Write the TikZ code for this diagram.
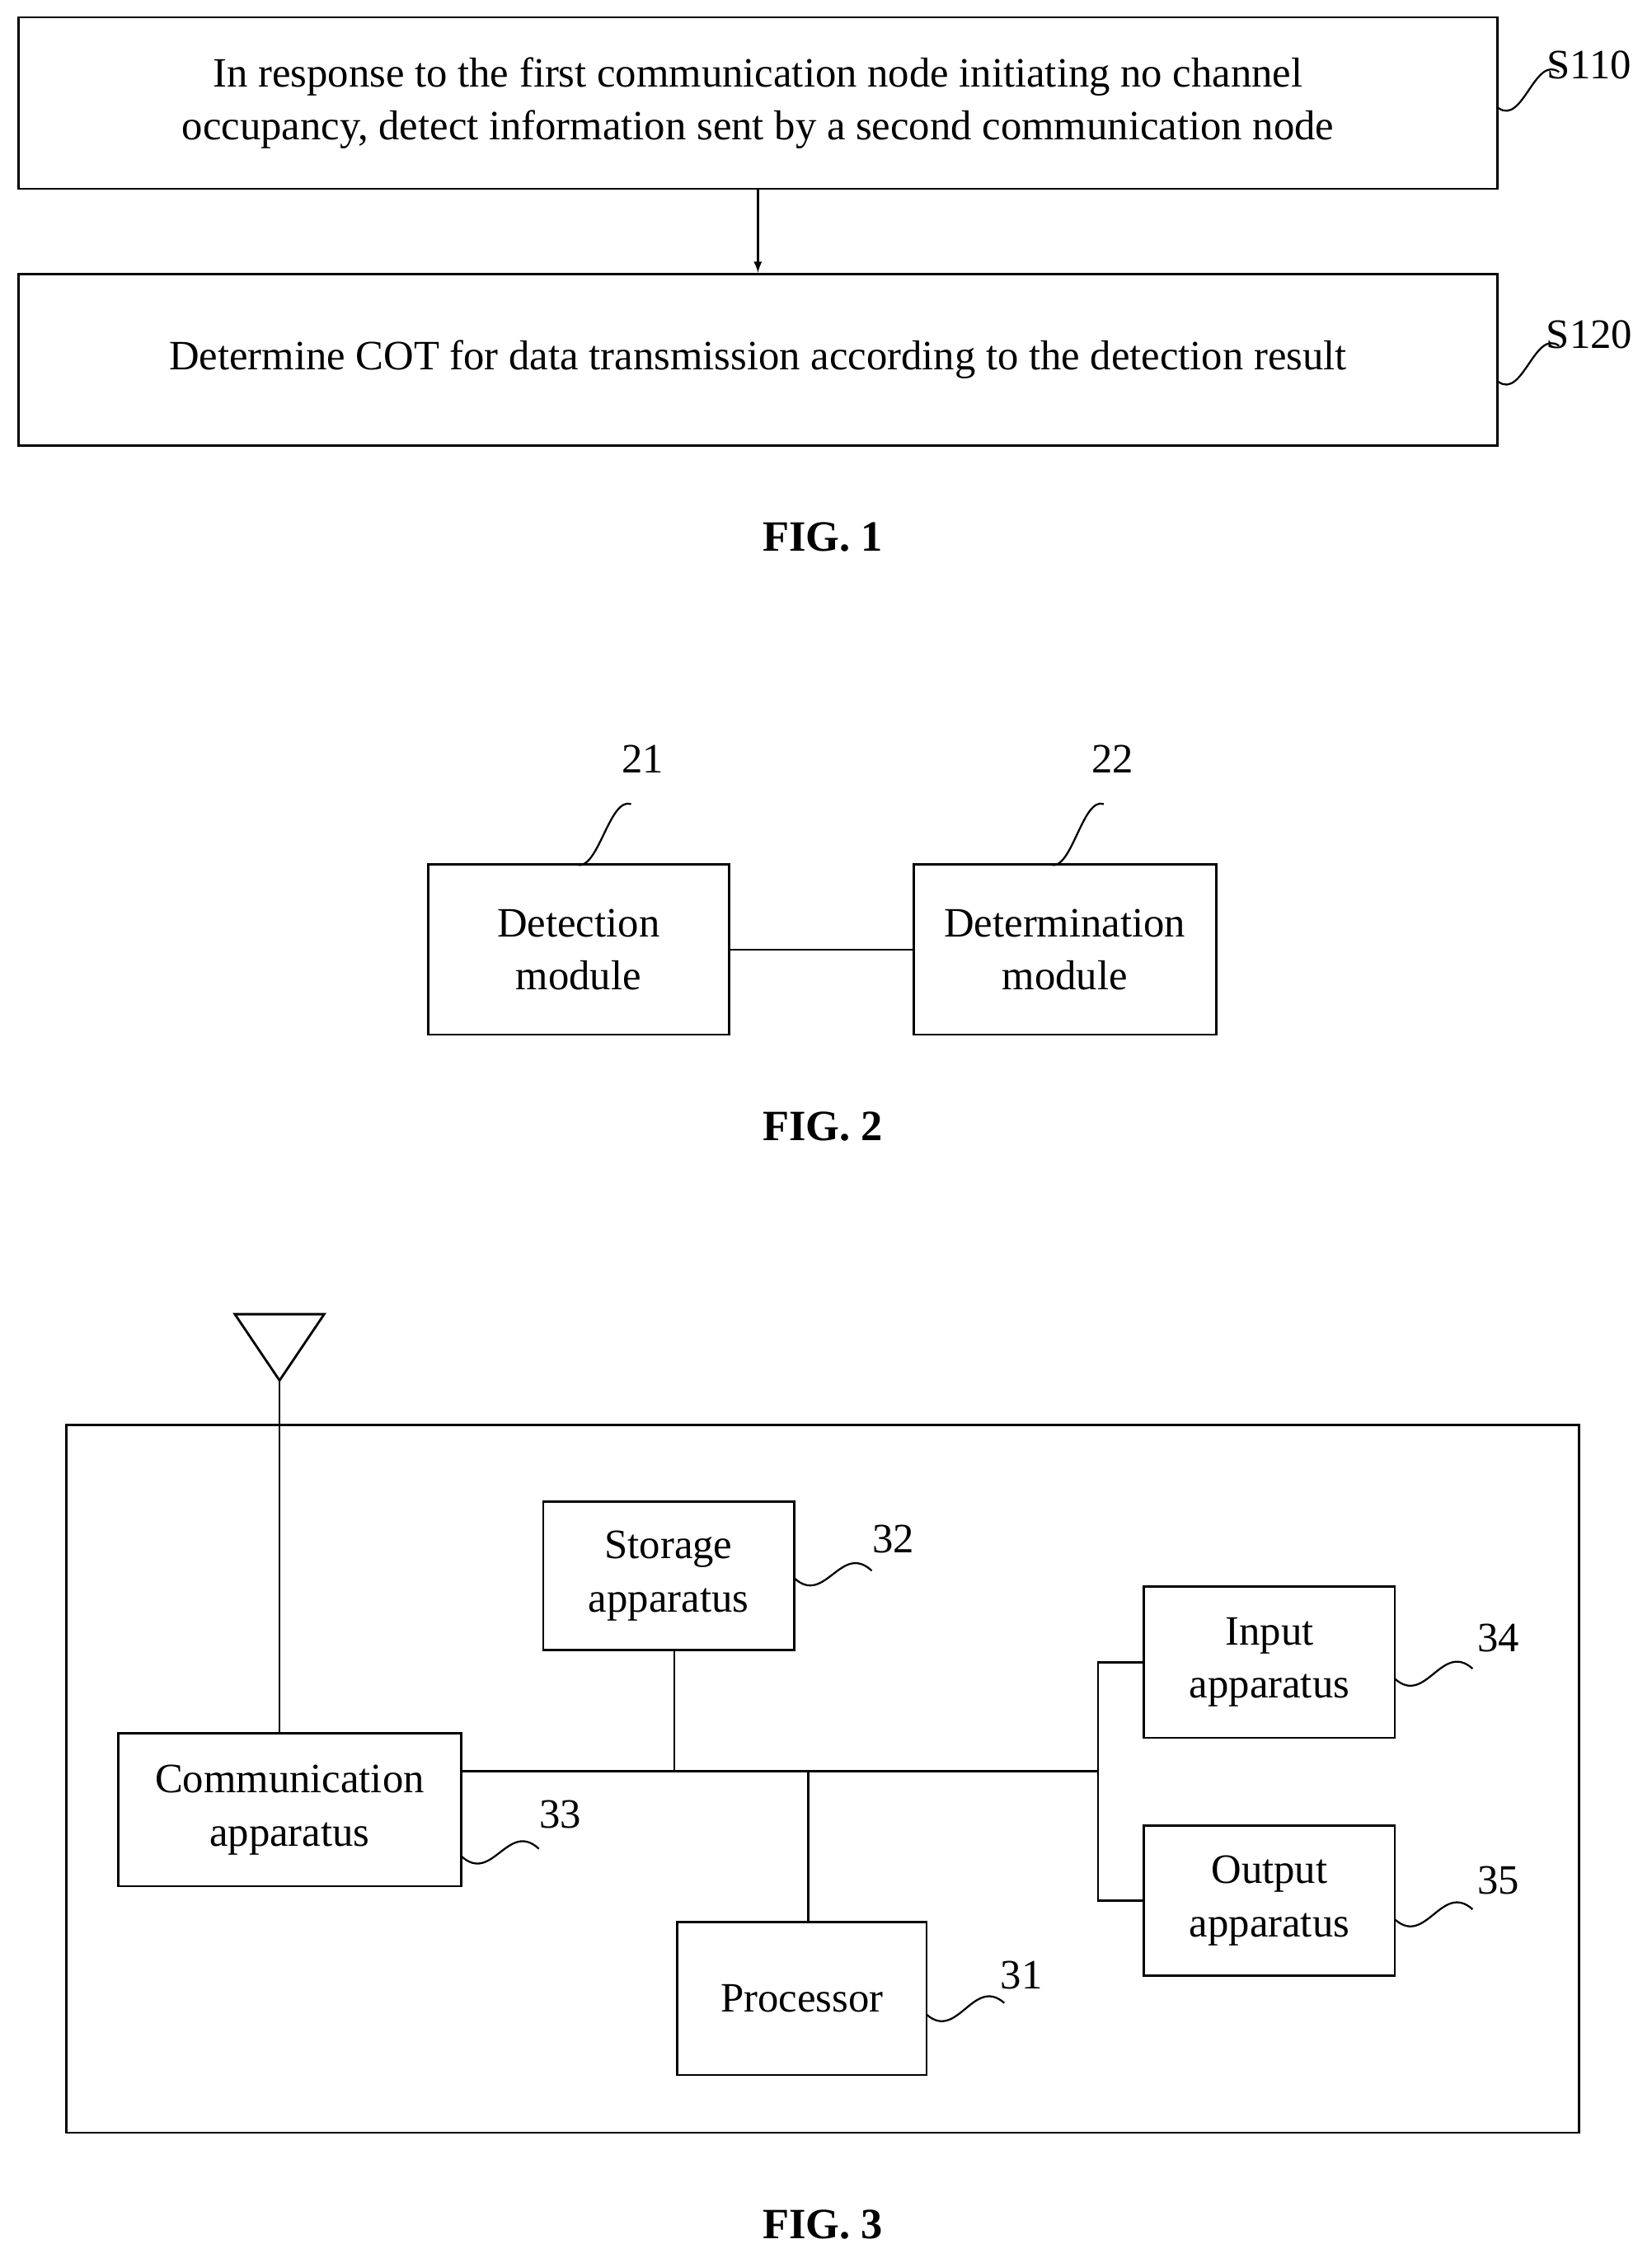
\documentclass[tikz,border=0pt]{standalone}
\usepackage{fontspec}
\setmainfont{Liberation Serif}
\usetikzlibrary{calc}
\tikzset{
	box/.style={draw, line width=1.6pt, inner sep=0pt, align=center, font=\fontsize{29}{37}\selectfont},
	lbl/.style={font=\fontsize{29}{34}\selectfont, inner sep=0pt},
	figcap/.style={font=\fontsize{30}{34}\selectfont\bfseries, inner sep=0pt},
	wave/.style={line width=1.3pt},
	wire/.style={line width=1.6pt}
}
\newcommand\squig[2]{\draw[wave] (#1) .. controls ($(#1)!0.4!(#2)+(0,22)$) and ($(#1)!0.6!(#2)+(0,-22)$) .. (#2);}
\begin{document}
\begin{tikzpicture}[x=1pt, y=-1pt]
	\useasboundingbox (0,0) rectangle (1146,1567);
	% FIG. 1
	\node[box, minimum width=1026pt, minimum height=119pt] (s110) at (526,71.5) {In response to the first communication node initiating no channel\\occupancy, detect information sent by a second communication node};
	\node[box, minimum width=1026pt, minimum height=119pt] (s120) at (526,249.5) {Determine COT for data transmission according to the detection result};
	\draw[wire, -latex] (s110) -- (s120);
	\node[lbl] (t110) at (1103,45) {S110};
	\node[lbl] (t120) at (1103,232) {S120};
	\squig{1040,75}{1082,50}
	\squig{1040,265}{1082,240}
	\node[figcap] (fig1) at (571,373) {FIG. 1};
	% FIG. 2
	\node[box, minimum width=209pt, minimum height=118pt] (det) at (401.5,659) {Detection\\module};
	\node[box, minimum width=210pt, minimum height=118pt] (dtm) at (739,659) {Determination\\module};
	\draw[wire] (det) -- (dtm);
	\node[lbl] (t21) at (446,527) {21};
	\node[lbl] (t22) at (772,527) {22};
	\squig{400,600}{438,558}
	\squig{729,600}{766,558}
	\node[figcap] (fig2) at (571,782) {FIG. 2};
	% FIG. 3
	\draw[wire] (46,989) rectangle (1096,1480);
	\draw[wire] (163,912) -- (225,912) -- (194,958) -- cycle;
	\coordinate (ant) at (194,958);
	\node[box, minimum width=238pt, minimum height=106pt] (com) at (201,1256) {Communication\\apparatus};
	\node[box, minimum width=174pt, minimum height=103pt] (sto) at (464,1093.5) {Storage\\apparatus};
	\node[box, minimum width=173pt, minimum height=106pt] (pro) at (556.5,1387) {Processor};
	\node[box, minimum width=174pt, minimum height=105pt] (inp) at (881,1153.5) {Input\\apparatus};
	\node[box, minimum width=174pt, minimum height=104pt] (out) at (881,1319) {Output\\apparatus};
	\draw[wire] (ant) -- (ant |- com.north);
	\coordinate (b1) at (468,1229);
	\coordinate (b2) at (561,1229);
	\coordinate (b3) at (762,1229);
	\draw[wire] (com.east |- b1) -- (b3);
	\draw[wire] (b1 |- sto.south) -- (b1);
	\draw[wire] (b2) -- (b2 |- pro.north);
	\draw[wire] (inp.west) -| (b3) |- (out.west);
	\node[lbl] (t32) at (620,1068) {32};
	\node[lbl] (t33) at (389,1259) {33};
	\node[lbl] (t31) at (709,1371) {31};
	\node[lbl] (t34) at (1040,1137) {34};
	\node[lbl] (t35) at (1040,1305) {35};
	\squig{551,1095}{605,1090}
	\squig{320,1288}{374,1283}
	\squig{643,1398}{697,1390}
	\squig{968,1165}{1022,1158}
	\squig{968,1332}{1022,1325}
	\node[figcap] (fig3) at (571,1544) {FIG. 3};
\end{tikzpicture}
\end{document}
